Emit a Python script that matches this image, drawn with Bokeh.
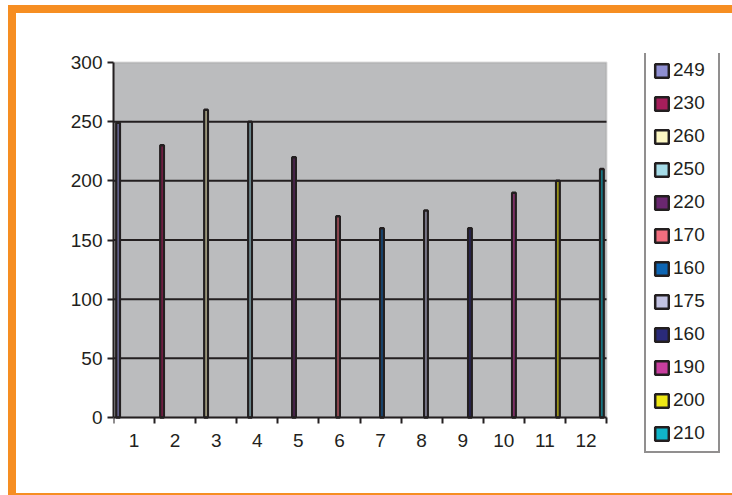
from bokeh.plotting import figure
from bokeh.models import (Range1d, FixedTicker, ColumnDataSource, Legend,
                          LegendItem, BoxAnnotation)
from bokeh.core.properties import value
from bokeh.embed import file_html
from bokeh.resources import INLINE

# ---- data ----
categories = ["1", "2", "3", "4", "5", "6", "7", "8", "9", "10", "11", "12"]
series_names = ["249", "230", "260", "250", "220", "170",
                "160", "175", "160", "190", "200", "210"]
values = [249, 230, 260, 250, 220, 170, 160, 175, 160, 190, 200, 210]
colors = ["#8F8FD2", "#A61E5B", "#FDF8C4", "#A6DCE8", "#6A2770", "#F26E7E",
          "#0D65B3", "#C3C3E3", "#2A2A7A", "#C83E9E", "#EFE815", "#10B5C9"]
y_ticks = [0, 50, 100, 150, 200, 250, 300]

ORANGE = "#F68E22"
INK = "#231F20"
PLOT_BG = "#BBBCBE"

# ---- page layout (pixels) ----
W, H = 732, 495
FRAME_L, FRAME_R, FRAME_T, FRAME_B = 113, 722, 53, 454   # drawing frame
PLOT_R, PLOT_T, PLOT_B = 606, 62, 417                    # grey plot area

n = len(values)
slot = 0.0706  # width of one series slot inside a category (cluster of 12)
cat_pos = list(range(1, len(categories) + 1))
xs = [cat_pos[i] + (i - (n - 1) / 2) * slot for i in range(n)]
x_lo, x_hi = cat_pos[0] - 0.5, cat_pos[-1] + 0.5
y_lo, y_hi = y_ticks[0], y_ticks[-1]

kx = (PLOT_R - FRAME_L) / (x_hi - x_lo)
ky = (PLOT_B - PLOT_T) / (y_hi - y_lo)
x_range = Range1d(x_lo, x_lo + (FRAME_R - FRAME_L) / kx)
y_range = Range1d(y_lo - (FRAME_B - PLOT_B) / ky, y_hi + (PLOT_T - FRAME_T) / ky)

src = ColumnDataSource(dict(x=xs, top=values, color=colors, name=series_names))

p = figure(width=W, height=H, output_backend="svg", toolbar_location=None,
           x_range=x_range, y_range=y_range,
           min_border_left=FRAME_L, min_border_right=W - FRAME_R,
           min_border_top=FRAME_T, min_border_bottom=H - FRAME_B)
p.background_fill_color = None
p.border_fill_color = None
p.outline_line_color = None
p.grid.visible = False

# orange frame of the picture (CSS background behind the transparent canvas)
grad = f"linear-gradient({ORANGE}, {ORANGE})"
p.styles = {
    "background-color": "white",
    "background-image": ", ".join([grad, grad, grad]),
    "background-size": f"{W - 8}px 8px, 8px {H - 5}px, {W - 8}px 8px",
    "background-position": "8px 5px, 8px 5px, 8px 493px",
    "background-repeat": "no-repeat",
}

# grey plot area with its grey top/right border
p.add_layout(BoxAnnotation(left=x_lo, right=x_hi, bottom=y_lo, top=y_hi,
                           fill_color=PLOT_BG, fill_alpha=1,
                           line_color="#8A8A8A", line_width=2, level="image"))

# horizontal grid lines
gy = y_ticks[1:-1]
p.segment(x0=[x_lo] * len(gy), x1=[x_hi] * len(gy), y0=gy, y1=gy,
          line_color=INK, line_width=2)

r = p.vbar(x="x", top="top", bottom=0, width=0.085, source=src,
           fill_color="color", line_color=INK, line_width=2.5)

# axes
xa = p.xaxis[0]
xa.fixed_location = y_lo
xa.bounds = (x_lo, x_hi)
xa.ticker = FixedTicker(ticks=cat_pos,
                        minor_ticks=[c - 0.5 for c in cat_pos] + [x_hi])
xa.major_label_overrides = {c: lab for c, lab in zip(cat_pos, categories)}
xa.major_tick_line_color = None
xa.major_tick_out = 6
xa.major_tick_in = 0
xa.minor_tick_line_color = INK
xa.minor_tick_line_width = 2
xa.minor_tick_out = 6
xa.minor_tick_in = 0
xa.major_label_standoff = 10

ya = p.yaxis[0]
ya.bounds = (y_lo, y_hi)
ya.ticker = FixedTicker(ticks=y_ticks)
ya.major_tick_line_color = INK
ya.major_tick_line_width = 2
ya.major_tick_out = 6
ya.major_tick_in = 0
ya.minor_tick_line_color = None
ya.major_label_standoff = 5

for ax in (xa, ya):
    ax.axis_line_color = INK
    ax.axis_line_width = 2
    ax.major_label_text_font = "Liberation Sans"
    ax.major_label_text_font_size = "19px"
    ax.major_label_text_color = INK

# legend (one entry per series, duplicates kept)
items = [LegendItem(label=value(series_names[i]), renderers=[r], index=i)
         for i in range(n)]
legend = Legend(items=items, location=(644 - FRAME_L, FRAME_B - 453),
                orientation="vertical",
                padding=7, spacing=11, margin=0,
                glyph_width=17, glyph_height=17,
                label_height=22, label_width=38, label_standoff=3,
                label_text_font="Liberation Sans", label_text_font_size="19px",
                label_text_color=INK,
                border_line_color=INK, border_line_width=2,
                background_fill_color="white", background_fill_alpha=1)
p.add_layout(legend)

open("out.html", "w").write(file_html(p, INLINE))
